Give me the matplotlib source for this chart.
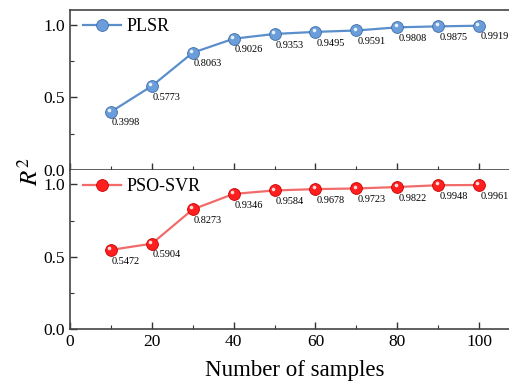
import matplotlib
matplotlib.use("Agg")
import matplotlib.pyplot as plt
from matplotlib.transforms import offset_copy
from matplotlib.ticker import MultipleLocator

samples = [10, 20, 30, 40, 50, 60, 70, 80, 90, 100]
plsr_r2 = [0.3998, 0.5773, 0.8063, 0.9026, 0.9353, 0.9495, 0.9591, 0.9808, 0.9875, 0.9919]
svr_r2 = [0.5472, 0.5904, 0.8273, 0.9346, 0.9584, 0.9678, 0.9723, 0.9822, 0.9948, 0.9961]

plt.rcParams['font.family'] = ['Liberation Serif', 'DejaVu Serif']
plt.rcParams['mathtext.fontset'] = 'stix'

fig = plt.figure(figsize=(5.09, 3.83), dpi=100)
W, H = 509, 383
ax1 = fig.add_axes([70 / W, (H - 170) / H, 450 / W, 160 / H])
ax2 = fig.add_axes([70 / W, (H - 329) / H, 450 / W, 159 / H])

series = [
    (ax1, plsr_r2, 'PLSR', '#5b8fcc', '#6a9dda', '#3d6da8'),
    (ax2, svr_r2, 'PSO-SVR', '#f26b6b', '#ff1f1f', '#c80000'),
]

for ax, vals, name, lc, fc, ec in series:
    ax.plot(samples, vals, '-o', color=lc, lw=1.6, ms=8.5,
            mfc=fc, mec=ec, mew=0.6, label=name, zorder=3)
    # little highlight to fake the shaded spheres
    hl = offset_copy(ax.transData, fig=fig, x=-1.2, y=1.4, units='points')
    ax.plot(samples, vals, 'o', ms=2.6, mfc='white', mec='none', alpha=0.85,
            transform=hl, zorder=4)
    for x, v in zip(samples, vals):
        ax.annotate(f'{v:.4f}', (x, v), xytext=(0.8, -8), textcoords='offset points',
                    ha='left', va='center', fontsize=7.4)
    ax.set_xlim(0, 110)
    ax.set_ylim(0, 1.1)
    ax.yaxis.set_major_locator(MultipleLocator(0.5))
    ax.yaxis.set_minor_locator(MultipleLocator(0.25))
    ax.xaxis.set_major_locator(MultipleLocator(20))
    ax.xaxis.set_minor_locator(MultipleLocator(10))
    ax.tick_params(which='both', direction='in', labelsize=12.5, color='#333333')
    ax.tick_params(which='major', length=5, width=1)
    ax.tick_params(which='minor', length=3, width=0.8)
    ax.spines['right'].set_visible(False)
    for s in ['left', 'bottom', 'top']:
        ax.spines[s].set_color('#444444')
        ax.spines[s].set_linewidth(1.2)
    ax.legend(loc='upper left', frameon=False, fontsize=13, handlelength=2.1,
              handletextpad=0.35, borderaxespad=0.3, bbox_to_anchor=(0.0, 1.03))

ax1.tick_params(labelbottom=False)
ax2.spines['top'].set_visible(False)
ax2.set_xlabel('Number of samples', fontsize=16.5, labelpad=7)
fig.text(30 / W, (H - 172) / H, '$R^2$', fontsize=18, rotation=90,
         ha='center', va='center')

fig.savefig('out.png', dpi=100)
